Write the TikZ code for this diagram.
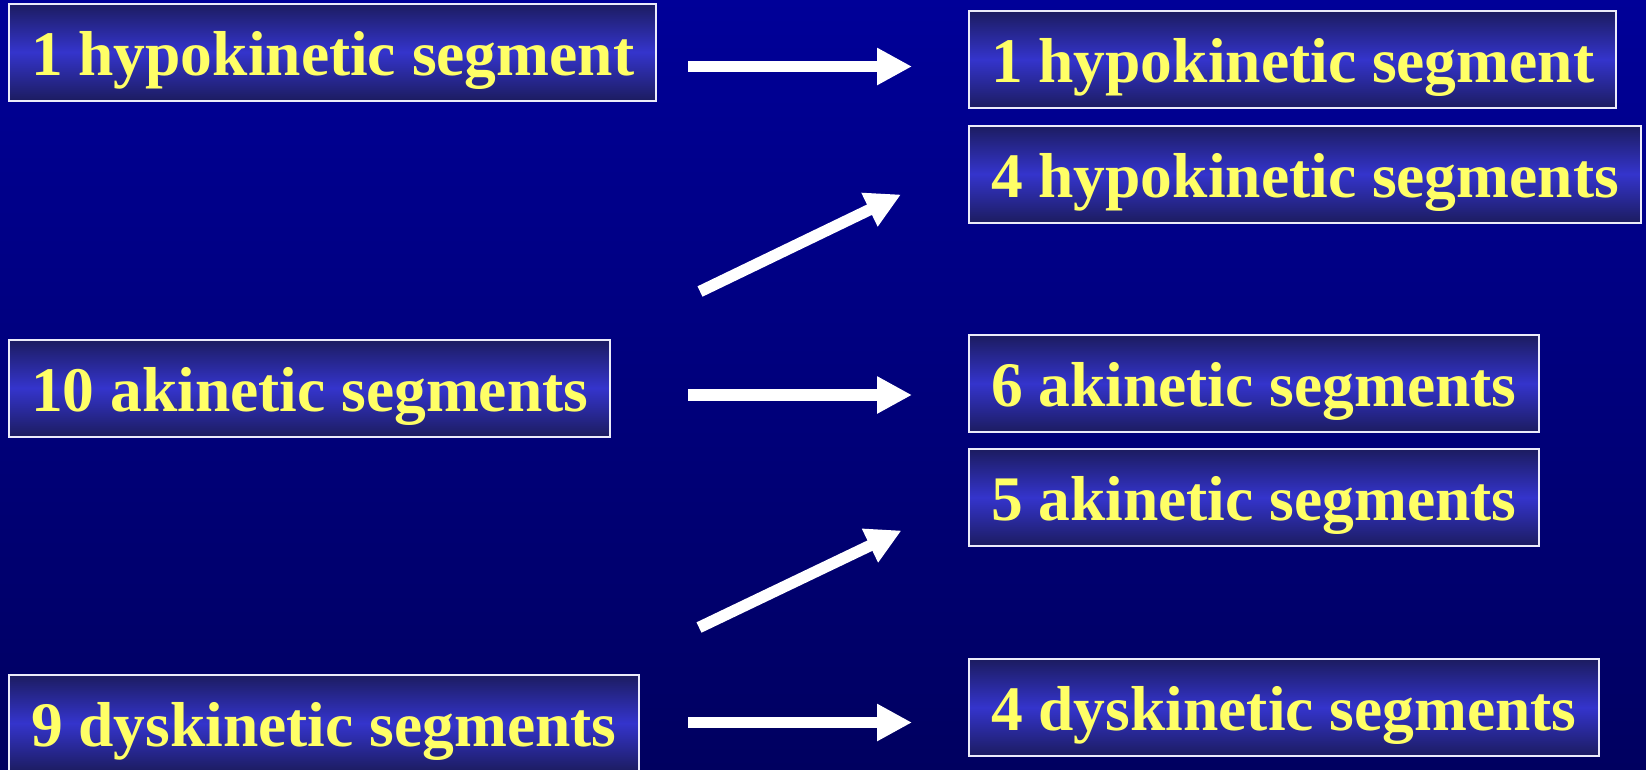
\documentclass[tikz,border=0pt]{standalone}
\usepackage{fontspec}
\setmainfont{Liberation Serif}
\usepackage{tikz}
\usetikzlibrary{arrows.meta}
\usepackage{xcolor}
\definecolor{bgtop}{RGB}{0,0,152}
\definecolor{bgbottom}{RGB}{0,0,96}
\definecolor{boxedge}{RGB}{28,28,96}
\definecolor{boxmid}{RGB}{52,52,204}
\definecolor{boxline}{RGB}{235,235,250}
\definecolor{segyellow}{RGB}{255,255,102}

\begin{document}
\begin{tikzpicture}[
    x=1pt, y=1pt,
    seg/.style={draw=boxline, line width=2pt, shading=axis,
                top color=boxedge, bottom color=boxedge, middle color=boxmid,
                anchor=west, minimum height=97pt, inner xsep=22pt, inner ysep=0pt,
                text height=48pt, text depth=2pt, text=segyellow,
                font=\fontsize{63.5}{70}\selectfont\bfseries},
    arr/.style={-{Triangle[length=35pt, width=35pt]}, line width=11.5pt, white}
]
    \useasboundingbox (0,0) rectangle (1646,-769);
    \clip (0,0) rectangle (1646,-769);
    \shade[top color=bgtop, bottom color=bgbottom] (0,0) rectangle (1646,-769);

    % before
    \node[seg] (hypoA) at (8,-52) {1 hypokinetic segment};
    \node[seg] (akinA) at (8,-388) {10 akinetic segments};
    \node[seg] (dyskA) at (8,-723) {9 dyskinetic segments};

    % after
    \node[seg] (hypoB) at (968,-59.5) {1 hypokinetic segment};
    \node[seg] (hypoC) at (968,-174) {4 hypokinetic segments};
    \node[seg] (akinB) at (968,-383.5) {6 akinetic segments};
    \node[seg] (akinC) at (968,-497.5) {5 akinetic segments};
    \node[seg] (dyskB) at (968,-707.5) {4 dyskinetic segments};

    \coordinate (h1) at (688,-66.5);   \coordinate (h2) at (912,-66.5);
    \coordinate (u1) at (700,-291.5);  \coordinate (u2) at (901,-194.5);
    \coordinate (k1) at (688,-395);    \coordinate (k2) at (912,-395);
    \coordinate (v1) at (699,-627.5);  \coordinate (v2) at (901.5,-530.5);
    \coordinate (d1) at (688,-722.5);  \coordinate (d2) at (912,-722.5);

    \draw[arr] (h1) -- (h2);
    \draw[arr] (u1) -- (u2);
    \draw[arr] (k1) -- (k2);
    \draw[arr] (v1) -- (v2);
    \draw[arr] (d1) -- (d2);
\end{tikzpicture}
\end{document}
